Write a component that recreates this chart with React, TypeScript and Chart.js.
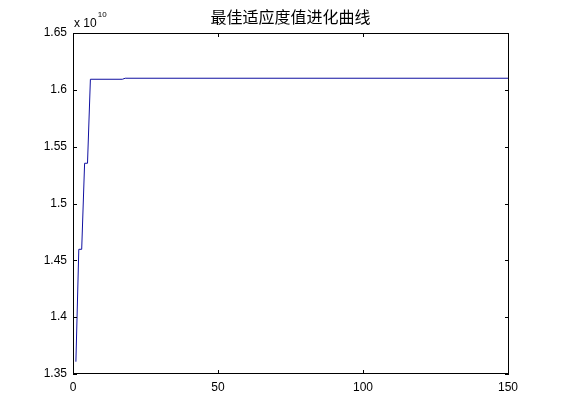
import { Chart } from "chart.js/auto";
import { useEffect, useRef } from "react";

// generation numbers where the best-fitness curve changes slope
const generations = [1, 2, 3, 4, 5, 6, 17, 18, 150];
// best fitness per generation (x 10^10)
const bestFitness = [
    1.3608e10, 1.4597e10, 1.4597e10, 1.5354e10, 1.5354e10,
    1.6093e10, 1.6093e10, 1.6102e10, 1.6102e10
];
const xTicks = [0, 50, 100, 150];
const yTicks = [1.35e10, 1.4e10, 1.45e10, 1.5e10, 1.55e10, 1.6e10, 1.65e10];
const chartTitle = "最佳适应度值进化曲线";

const FONT = "'Liberation Sans', Arial, sans-serif";

// MATLAB-like box with inward ticks on all four sides, plus the exponent label
const boxPlugin = {
    id: "matlabBox",
    afterDraw(chart: any) {
        const { ctx, chartArea, scales } = chart;
        const { left, right, top, bottom } = chartArea;
        const tl = 4;
        ctx.save();
        ctx.strokeStyle = "#000";
        ctx.lineWidth = 1;
        ctx.beginPath();
        ctx.rect(left + 0.5, top + 0.5, right - left, bottom - top - 1);
        xTicks.forEach((v) => {
            const px = Math.round(scales.x.getPixelForValue(v)) + 0.5;
            ctx.moveTo(px, bottom);
            ctx.lineTo(px, bottom - tl);
            ctx.moveTo(px, top);
            ctx.lineTo(px, top + tl);
        });
        yTicks.forEach((v) => {
            const py = Math.round(scales.y.getPixelForValue(v)) + 0.5;
            ctx.moveTo(left, py);
            ctx.lineTo(left + tl, py);
            ctx.moveTo(right + 1, py);
            ctx.lineTo(right + 1 - tl, py);
        });
        ctx.stroke();

        ctx.fillStyle = "#000";
        ctx.textAlign = "left";
        ctx.textBaseline = "alphabetic";
        ctx.font = `12px ${FONT}`;
        const base = "x 10";
        ctx.fillText(base, left + 1, top - 6);
        const w = ctx.measureText(base).width;
        ctx.font = `8px ${FONT}`;
        ctx.fillText("10", left + 1 + w + 1, top - 16);
        ctx.restore();
    }
};

export default function App() {
    const chartRef = useRef<HTMLCanvasElement | null>(null);

    useEffect(() => {
        if (!chartRef.current) return;
        const chartInstance = new Chart(chartRef.current, {
            type: "scatter",
            data: {
                datasets: [
                    {
                        data: generations.map((g, i) => ({ x: g, y: bestFitness[i] })),
                        showLine: true,
                        borderColor: "rgb(15, 15, 160)",
                        borderWidth: 1,
                        pointRadius: 0,
                        tension: 0
                    }
                ]
            },
            options: {
                animation: false,
                responsive: true,
                maintainAspectRatio: false,
                layout: { padding: { top: 0, left: 0, right: 53, bottom: 0 } },
                plugins: {
                    legend: { display: false },
                    tooltip: { enabled: false },
                    title: {
                        display: true,
                        text: chartTitle,
                        fullSize: false,
                        color: "#000",
                        font: { family: "'Noto Sans CJK SC', sans-serif", size: 16, weight: "normal", lineHeight: 1.2 },
                        padding: { top: 7.5, bottom: 6.3 }
                    }
                },
                scales: {
                    x: {
                        type: "linear",
                        min: 0,
                        max: 150,
                        grid: { display: false, drawTicks: false },
                        border: { display: false },
                        afterFit: (scale: any) => { scale.height = 46; },
                        ticks: {
                            stepSize: 50,
                            padding: 6,
                            color: "#000",
                            font: { family: FONT, size: 12 },
                            maxRotation: 0
                        }
                    },
                    y: {
                        min: 1.35e10,
                        max: 1.65e10,
                        grid: { display: false, drawTicks: false },
                        border: { display: false },
                        afterFit: (scale: any) => { scale.width = 73; },
                        ticks: {
                            stepSize: 5e8,
                            padding: 6,
                            color: "#000",
                            font: { family: FONT, size: 12 },
                            callback: (v: any) => String(Number((Number(v) / 1e10).toFixed(2)))
                        }
                    }
                }
            },
            plugins: [boxPlugin]
        });
        return () => {
            chartInstance.destroy();
        };
    }, []);

    return (
        <div style={{ position: "fixed", left: 0, top: 0, width: 561, height: 420, background: "#fff" }}>
            <canvas ref={chartRef} />
        </div>
    );
}
